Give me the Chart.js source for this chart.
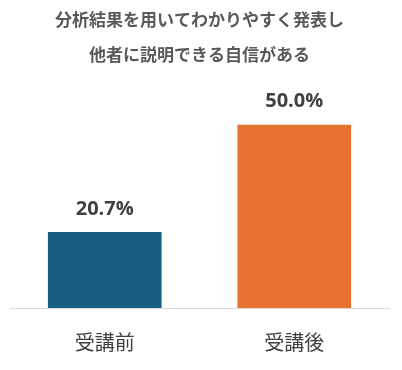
<!DOCTYPE html>
<html lang="ja">
<head>
<meta charset="utf-8">
<script src="https://cdn.jsdelivr.net/npm/chart.js@4"></script>
<style>
  html, body { margin: 0; padding: 0; background: #fff; }
  #wrap { width: 402px; height: 370px; }
</style>
</head>
<body>
<div id="wrap"><canvas id="chart" width="402" height="370"></canvas></div>
<script>
// =========================
// DATA
// =========================

const titleLines = [
  "分析結果を用いてわかりやすく発表し",
  "他者に説明できる自信がある"
];

const categories = ["受講前", "受講後"];

const values = [20.7, 50.0];

const barColors = ["#185E80", "#E8722F"];

// =========================
// VALUE LABEL PLUGIN
// =========================

const valueLabels = {
  id: "valueLabels",
  afterDatasetsDraw(chart)
  {
    const ctx = chart.ctx;
    const meta = chart.getDatasetMeta(0);

    ctx.save();
    ctx.font = "bold 20px 'Open Sans', 'Noto Sans CJK JP', sans-serif";
    ctx.fillStyle = "#404040";
    ctx.textAlign = "center";
    ctx.textBaseline = "middle";

    meta.data.forEach((bar, i) =>
    {
      ctx.fillText(values[i].toFixed(1) + "%", bar.x, bar.y - 23);
    });

    ctx.restore();
  }
};

// =========================
// CHART
// =========================

new Chart(document.getElementById("chart"), {
  type: "bar",
  data: {
    labels: categories,
    datasets: [
      {
        data: values,
        backgroundColor: barColors,
        barPercentage: 0.6,
        categoryPercentage: 1
      }
    ]
  },
  options: {
    responsive: false,
    animation: false,
    layout: {
      padding: { left: 10, right: 13, bottom: -6 }
    },
    plugins: {
      legend: { display: false },
      tooltip: { enabled: false },
      title: {
        display: true,
        text: titleLines,
        color: "#595959",
        font: {
          family: "'Noto Sans CJK JP', sans-serif",
          size: 17,
          weight: "bold",
          lineHeight: 35 / 17
        },
        padding: { top: 2.5, bottom: 15.5 }
      }
    },
    scales: {
      x: {
        grid: { display: false, drawTicks: false },
        border: { display: true, color: "#D9D9D9", width: 1 },
        ticks: {
          padding: 22,
          color: "#404040",
          font: {
            family: "'Noto Sans CJK JP', sans-serif",
            size: 20
          }
        }
      },
      y: {
        display: false,
        min: 0,
        max: 60
      }
    }
  },
  plugins: [valueLabels]
});
</script>
</body>
</html>
